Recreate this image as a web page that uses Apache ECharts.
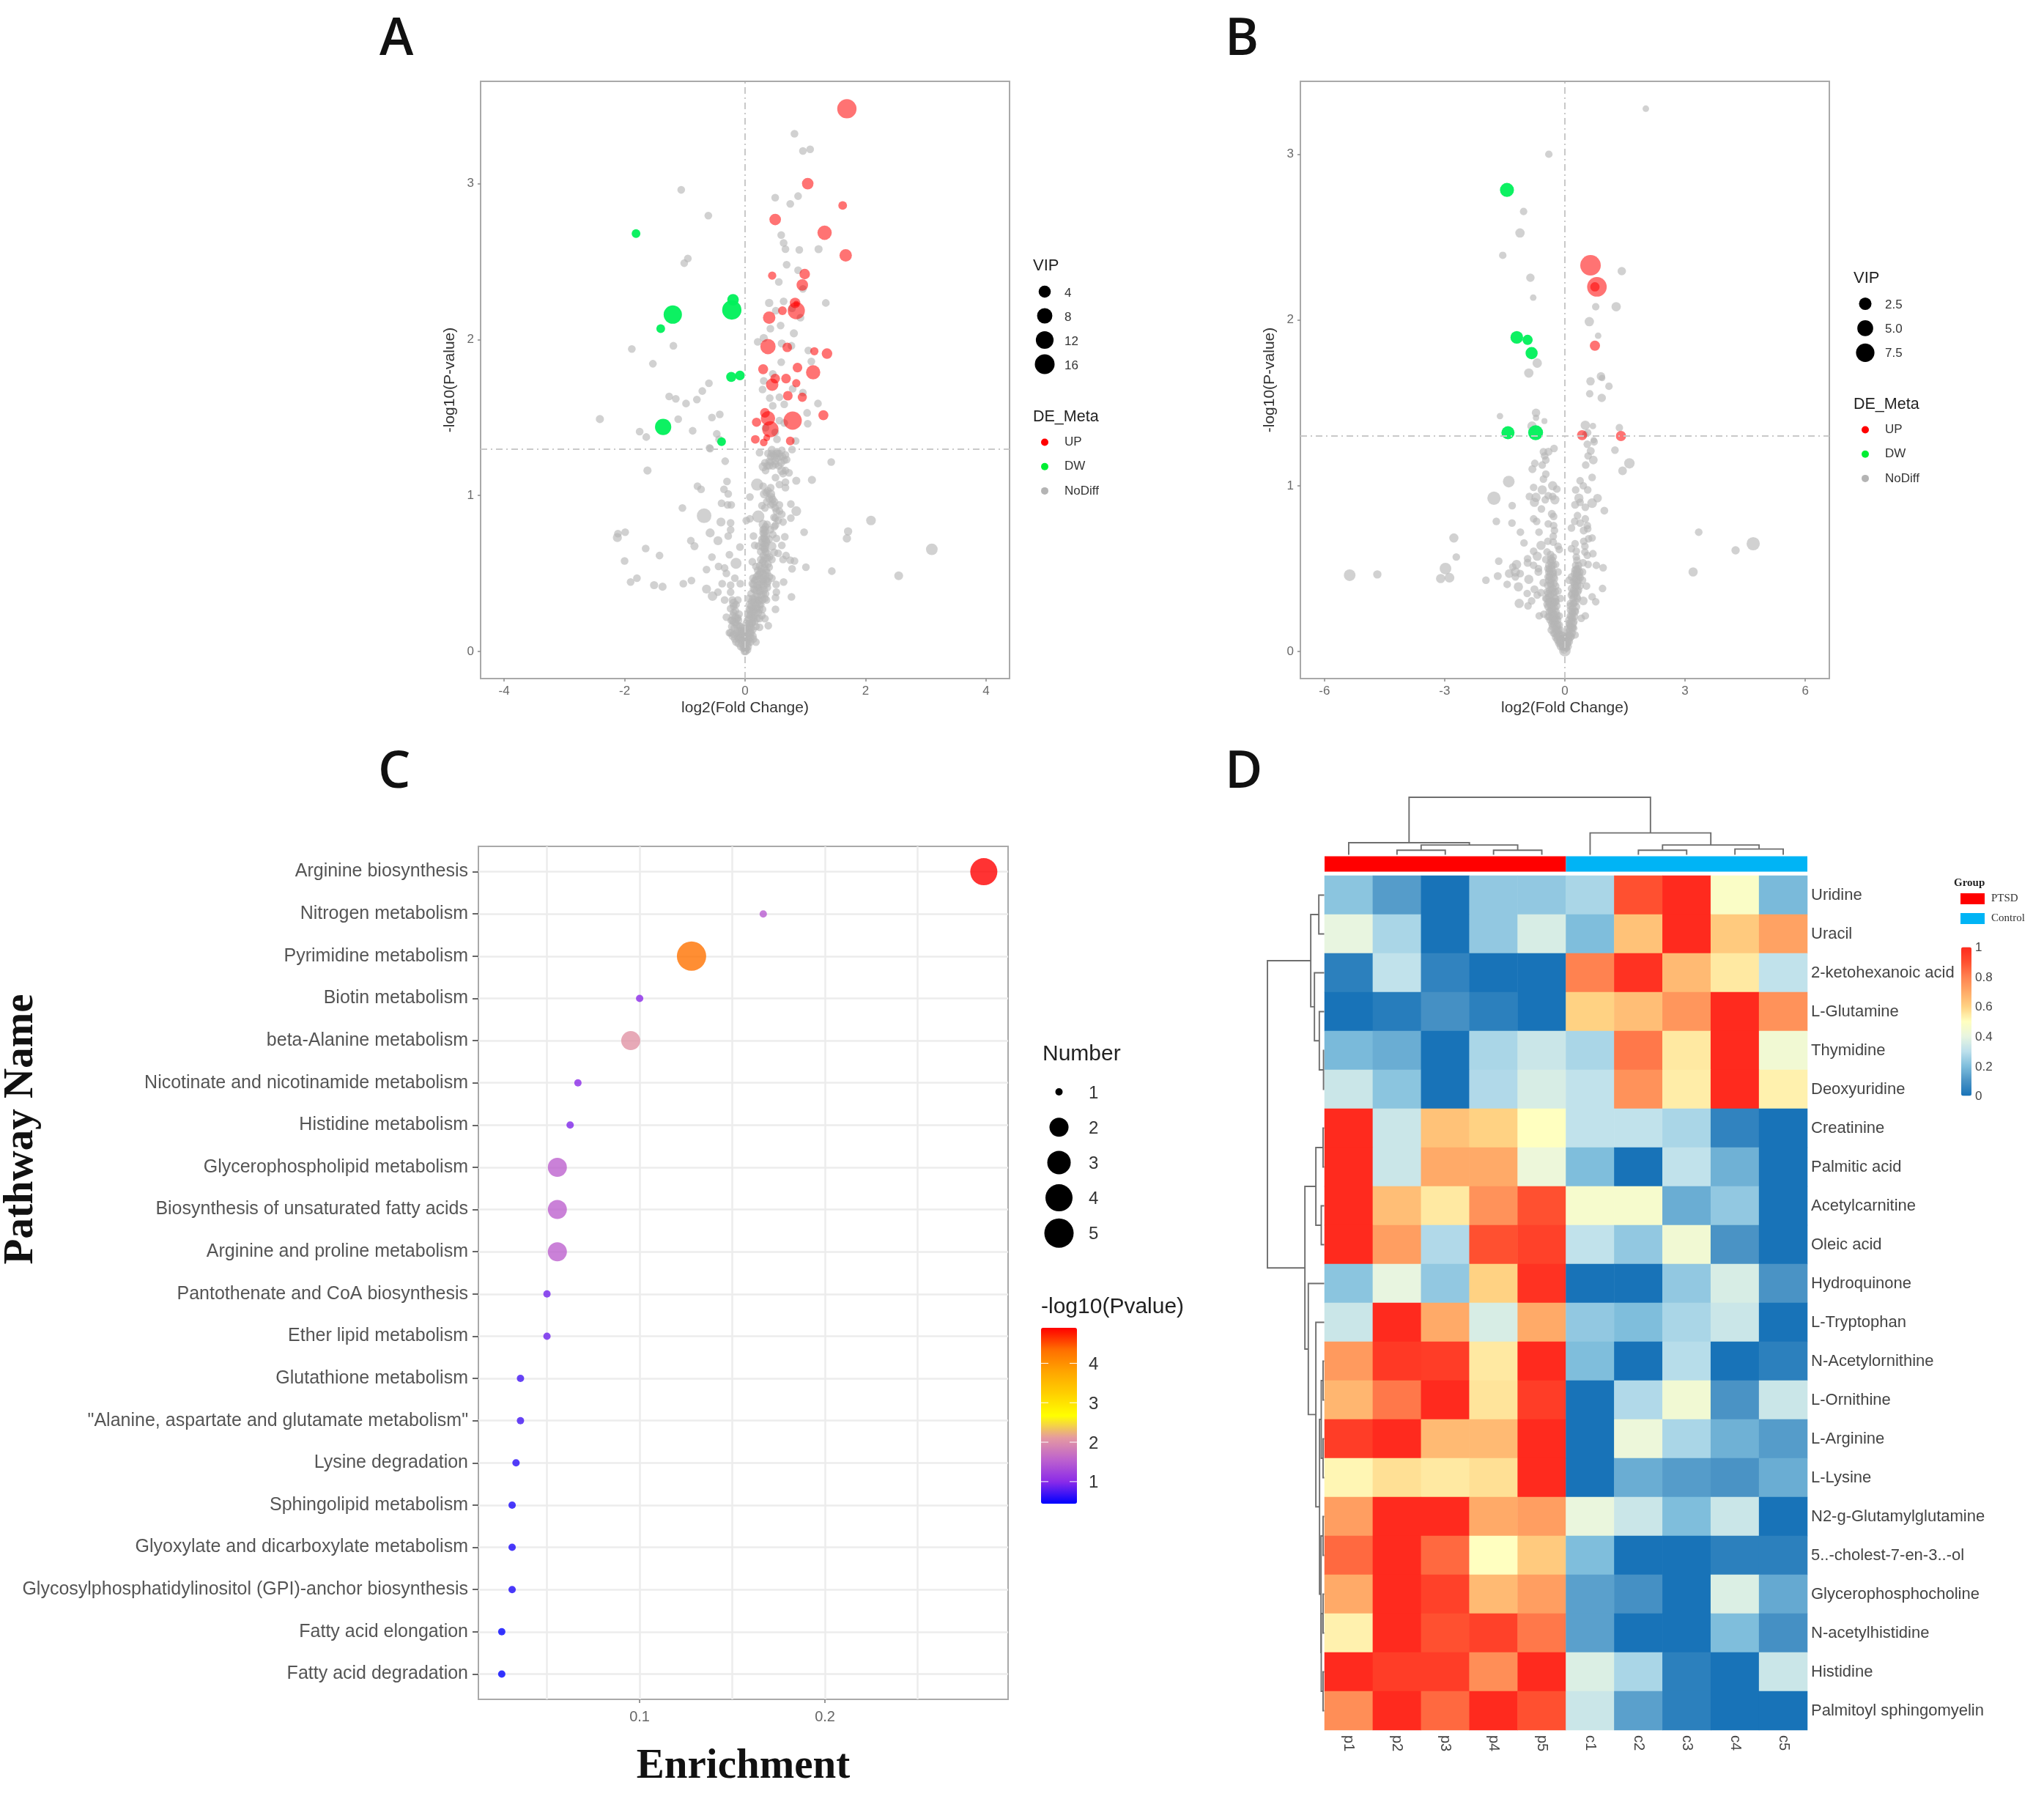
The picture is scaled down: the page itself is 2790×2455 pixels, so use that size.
<!DOCTYPE html>
<html><head><meta charset="utf-8"><title>Metabolomics figure</title>
<style>html,body{margin:0;padding:0;background:#fff}#chart{width:2790px;height:2455px;filter:blur(0.7px)}</style>
<script src="https://cdn.jsdelivr.net/npm/echarts@6/dist/echarts.min.js"></script>
</head><body><div id="chart"></div>
<script>
// Panel A: [log2FC, -log10P, VIP]; VIP omitted = small point
const upA=[[1.69,3.48,15],[1.04,3.0,3.4],[1.62,2.86,1.2],[.50,2.77,3.4],[1.32,2.685,6.6],[1.67,2.54,4.3],[.99,2.42,2.5],[.45,2.41,.95],[.95,2.35,3.4],[.83,2.235,2.5],[.85,2.185,11],[.62,2.185,1.2],[.40,2.14,4.3],[.38,1.955,8],[.70,1.95,1.8],[1.15,1.925,.95],[1.36,1.91,2.5],[.87,1.82,1.8],[.30,1.81,2.1],[1.13,1.79,6.6],[.50,1.75,1.8],[.68,1.75,1.8],[.85,1.72,.95],[.45,1.71,4.3],[.71,1.64,1.8],[.95,1.63,1.5],[.33,1.53,1.8],[1.30,1.515,2.1],[.79,1.48,13],[.38,1.495,6.6],[.19,1.47,1.5],[.42,1.425,9.5],[.36,1.37,.35],[.17,1.36,1.2],[.31,1.34,.7],[.75,1.35,1.2],[.85,2.23,.08]];
const dwA=[[-1.81,2.68,1.2],[-.20,2.255,3.4],[-.22,2.19,15],[-1.20,2.16,13],[-1.40,2.07,1.2],[-.085,1.77,1.8],[-.23,1.76,2.1],[-1.36,1.44,9.5],[-.39,1.345,1.2]];
const noDiffA=[[.82,3.32],[.96,3.21],[1.08,3.22],[-1.06,2.96],[.50,2.91],[.88,2.92],[.75,2.87],[-.61,2.795],[.60,2.67],[.64,2.62],[.67,2.58],[.90,2.575],[1.22,2.58,.9],[-.95,2.52],[-1.01,2.49],[.69,2.48],[.88,2.445],[.56,2.37],[.96,2.325],[1.34,2.235],[.40,2.235,1],[.64,2.245],[.51,2.185],[.78,2.2],[.92,2.14],[.59,2.09],[.42,2.07],[.81,2.04,.9],[.31,2.01,.9],[.21,1.985],[.61,1.975,.9],[.77,1.96],[-1.19,1.96],[-1.88,1.94],[1.05,1.93],[-1.53,1.845],[.60,1.855],[1.10,1.86],[.46,1.78],[.31,1.735],[-.60,1.72],[-.71,1.67],[-1.26,1.635],[-1.15,1.62],[-.80,1.615],[-.98,1.59],[.29,1.68],[.79,1.685],[.96,1.66],[.41,1.625],[.57,1.63],[1.21,1.59],[.65,1.585],[.46,1.575],[1.03,1.53],[-2.41,1.49,.9],[-1.11,1.49],[-.42,1.52],[-.55,1.50],[1.04,1.46],[.57,1.48],[.65,1.465],[-1.75,1.41],[-1.64,1.375],[-.87,1.415],[-.47,1.395],[.34,1.435],[.50,1.405],[.53,1.36],[.84,1.35],[-.59,1.305],[-.43,1.36],
[-.58,1.30],[-.33,1.22],[-1.62,1.16,.9],[-.30,1.09],[-.79,1.06],[-.73,1.04],[-.35,1.04],[-.28,1.01],[.08,.99],[-1.04,.92],[-.39,.95],[-.29,.94],[-.23,.94],[-.68,.87,7],[-.40,.83,1.4],[-.24,.825],[-.24,.78],[-.58,.76,1.4],[-.28,.74],[-.45,.71,1.4],[-.90,.71],[-.84,.675,.9],[-1.99,.765],[-2.11,.755],[-2.12,.73,1.4],[-1.65,.66],[-1.42,.615],[-.55,.605],[-.26,.62],[-.085,.67],[-.15,.565,2.9],[-2.0,.58],[-.44,.545],[-.34,.535],[-.64,.525],[-.31,.50],[-.17,.47],[-.89,.455],[-1.795,.47],[-1.90,.445],[-1.51,.425,.9],[-1.37,.415,.9],[-1.025,.435],[-.38,.435],[-.24,.425],[-.08,.435],[-.64,.40,1.4],[-.54,.355,1.7],[-.45,.38],[-.24,.38],[-.34,.33],[-.19,.31,1.4],[-.12,.33],[-.31,.22],[-.26,.12],[-.20,.10,1.4],
[.24,1.275],[1.43,1.215],[.78,1.295],[.445,1.295],[.53,1.28],[.61,1.29],[.67,1.26],[.425,1.25],[.53,1.24],[.65,1.225],[.69,1.23],[.365,1.19],[.30,1.185,1.4],[.425,1.215],[.505,1.20],[.61,1.16,1.4],[.73,1.145],[.67,1.16],[.63,1.14],[.505,1.115],[.67,1.085],[.57,1.07],[.85,1.095,.9],[1.11,1.10,.9],[.20,1.07,4],[.30,1.06],[.425,1.05],[.67,1.05],[.32,1.01,1.4],[.425,1.01,1.4],[.46,.975],[.465,.945],[.57,.94],[.76,.945],[.28,.935],[.33,.92],[.57,.90],[.61,.88],[.85,.90,1.9],[.22,.865,4],[.08,.85],[.02,.84],[.505,.855],[.76,.855],[.63,.83],[.30,.815,1.4],[.365,.815],[.505,.81],[.32,.785],[.32,.755],[.32,.725],[.32,.69],[.485,.80],[.14,.74],[.98,.765],[1.71,.77,1],[1.69,.725,1],[.52,.725],[.66,.735],[.61,.68],[.16,.68],[.22,.675],[.445,.675,1.4],[.32,.655],[.485,.635],[.30,.615],[.405,.605],[.55,.63],[.68,.615],[.63,.59],[.75,.585],[.82,.58],[.12,.575],[.445,.59],[1.01,.54],[1.44,.515],[.78,.53],[.24,.55],[.32,.535],[.18,.545],[.26,.51],[.365,.505],[.445,.47],[.405,.48],[.16,.455],[.24,.465],[.30,.45],[.12,.435],[.20,.425],[.365,.435],[.515,.43],[.64,.445],[.16,.395],[.24,.385],[.10,.37],[.18,.355],[.32,.395],[.52,.38],[.505,.345],[.77,.35],[.06,.34],[.14,.315],[.24,.325],[.355,.33],[.505,.27],[.12,.275],[.20,.275],[.28,.23],[.33,.21],[.16,.23],[.08,.23],[.385,.165],[.24,.155],[.18,.06],
[-.24,.275],[-.16,.26],[-.20,.23],[-.12,.215],[-.16,.185],[-.10,.165],[-.18,.15],[-.06,.135],[-.14,.12],[-.08,.09],[-.04,.075],[0,.04],[0,.02],[.01,0],[.08,.165],[.12,.185],[.04,.12],[.10,.12],[.06,.075],[0,.105],[-.04,.15],[.02,.135],
[2.09,.84,1.8],[3.1,.655,3.5],[2.55,.485,1.3],[.28,.72],[.34,.64],[.29,.57],[.21,.52],[.30,.50],[.35,.46],[.27,.43],[.22,.41],[.14,.40],[.30,.37],[.21,.35],[.26,.30],[.17,.30],[.10,.29],[.08,.26],[.22,.25],[.12,.22],[.04,.20],[.10,.15],[.16,.19],[.06,.10],[.03,.06],[-.03,.10],[-.08,.13],[-.11,.20],[-.19,.29],[-.02,.03],[.02,.02],[-.05,.05],[.05,.05],
[.34,.80],[.30,.76],[.35,.74],[.28,.70],[.36,.70],[.33,.66],[.26,.64],[.37,.63],[.33,.60],[.26,.59],[.38,.56],[.33,.56],[.24,.50],[.31,.47],[.38,.45],[.19,.48],[.13,.47],[.26,.39],[.34,.37],[.13,.34],[.29,.33],[.20,.31],[.07,.30],[.15,.26],[.24,.27],[.05,.24],[.20,.21],[.11,.18],[.07,.15],[.13,.10],[.09,.06],[.05,.03],[.47,1.26],[.50,1.22],[.58,1.25],[.60,1.21],[.40,1.22],[.46,1.19],[.56,1.19],[.33,1.21],[.38,1.27],[.35,1.02],[.40,.98],[.50,.92],[.43,.94],[.36,.96],[-.21,.20],[-.14,.17],[-.22,.16],[-.09,.11],[-.17,.08],[-.11,.05],[-.07,.03],[-.03,.02],[-.12,.09],[-.19,.19],[-.15,.30],[-.21,.33]];
const noDiffCoreA=[[.30,.78],[.34,.77],[.31,.73],[.35,.71],[.29,.67],[.34,.68],[.37,.60],[.30,.58],[.40,.54],[.27,.53],[.35,.52],[.22,.49],[.29,.46],[.34,.49],[.18,.46],[.24,.43],[.31,.42],[.37,.41],[.14,.43],[.19,.39],[.27,.36],[.33,.34],[.22,.33],[.16,.33],[.11,.32],[.19,.28],[.24,.30],[.29,.27],[.13,.27],[.07,.27],[.18,.25],[.10,.24],[.14,.21],[.24,.21],[.06,.21],[.02,.18],[.18,.16],[.07,.18],[.13,.14],[.03,.15],[.08,.12],[.14,.08],[.02,.08],[.09,.09],[-.02,.07],[.04,.01],[-.01,.0],[.0,.06],[-.07,.07],[-.05,.11],[-.10,.08],[-.13,.13],[-.08,.16],[-.02,.13],[-.14,.21],[-.10,.24],[-.19,.25],[-.23,.20],[-.16,.22],[-.24,.12],[-.19,.11],[-.15,.06],[.52,1.27],[.44,1.27],[.56,1.27],[.62,1.25],[.49,1.25],[.40,1.19],[.34,1.16],[.38,1.03],[.44,.99],[.49,.96],[.52,.90],[.48,.86],[.55,.84],[.42,.78],[.46,.75],[.40,.72]];

// Panel B: [log2FC, -log10P, VIP]
const upB=[[.64,2.33,9.9],[.80,2.20,8.8],[.75,2.20,.94],[.75,1.845,1.3],[.43,1.305,1.3],[1.40,1.30,1.3]];
const dwB=[[-1.445,2.785,3.5],[-1.20,1.895,2.6],[-.93,1.88,1.3],[-.83,1.80,2.3],[-1.42,1.32,2.9],[-.73,1.32,4.2]];
const noDiffB=[[2.02,3.275,.17],[-.40,3.0,.36],[-1.03,2.655,.36],[-1.12,2.525,.94],[-1.55,2.39,.36],[1.42,2.295,.62],[-.86,2.255,.62],[-.79,2.135,.17],[.77,2.08,.36],[1.28,2.08,.94],[.61,1.99,.94],[.83,1.905,.17],[-.69,1.74,.94],[-.90,1.68,.94],[.90,1.66,.62],[.93,1.65,.17],[.64,1.63,.62],[1.10,1.60,.36],[.62,1.555,.36],[.92,1.53,.62],[-1.62,1.42,.17],[-.72,1.44,.62],[-.72,1.41,.17],[-.51,1.39,.1],[-.82,1.36,.94],[.51,1.365,.94],[.70,1.36,.17],[1.36,1.35,.36],[.57,1.32,.36],[.72,1.275,.17],[.51,1.31,.17],
[-.27,1.225],[-.535,1.205],[-.41,1.205,.5],[-.505,1.18],[-.475,1.155],[-.75,1.135],[-.565,1.125],[-.81,1.10,.5],[-.475,1.07],[-.535,1.04],[-1.40,1.025,2],[-.78,.99],[-.305,1.0,.9],[-.565,.975,.9],[-.20,.98],[-1.77,.925,3],[-1.315,.88],[-.885,.935],[-.72,.93,.9],[-.76,.90,.9],[-.49,.915],[-.415,.94],[-.305,.935],[-.25,.915,.9],[-.585,.86],[-.325,.83,.5],[-.28,.815],[-.78,.80],[-.705,.785],[-1.71,.785],[-1.32,.775],[-.415,.77],[-.28,.76],[-.26,.73],[-1.11,.72],[-.645,.72],[-2.77,.685,.9],[-1.02,.655],[-.29,.695],[-.595,.64,.9],[-.425,.665],[-.29,.66],[-.17,.635],[-.14,.615],[-.78,.605],[-.69,.575,.9],[-2.71,.57],[-.93,.56],[-1.65,.545],[-.445,.60],[-.355,.585],[-.29,.57],[-.475,.555],[-.355,.54],[-.23,.525],[-.93,.535,.5],[-1.205,.525,.9],[-1.30,.51],[-.78,.52],[-2.98,.50,2],[-3.1,.44,.9],[-2.88,.445,1.1],[-1.97,.43],[-1.675,.455,.5],[-1.39,.47,.7],[-1.235,.48,.9],[-1.115,.47],[-1.235,.45],[-.66,.48,.5],[-.66,.50],[-.385,.495],[-.29,.48],[-.17,.48],[-.385,.45],[-.26,.44],[-.90,.435,.9],[-1.44,.405],[-1.16,.39,.9],[-.535,.415,.5],[-.355,.41],[-.23,.395],[-.76,.375,.5],[-.94,.35],[-.595,.355],[-.69,.34],[-.415,.35],[-.29,.355],[-.17,.365],[-1.14,.29,.9],[-.83,.305],[-.92,.275],[-.475,.32],[-.355,.305],[-.23,.32],[-.11,.32],[-.445,.285],[-.325,.26],[-.20,.275],[-.64,.215],[-.525,.225],[-.385,.21],[-.26,.195],[-.14,.215],[-.325,.17],[-.20,.15],[-.11,.13],[-.23,.085],[-.08,.10],[.01,.07],[-.11,.055],[.01,.03],[0,.005,2],
[.56,1.25],[.73,1.265],[1.25,1.215],[.645,1.21,.5],[.58,1.18],[.71,1.155,.7],[1.61,1.135,1.4],[1.44,1.09,.7],[.52,1.125],[.68,1.05],[.38,1.03],[.46,1.0],[.57,.975],[.27,.975],[.35,.925,.9],[.815,.925,.7],[.68,.895,1.1],[.255,.885,.5],[.38,.90],[.51,.87],[.985,.85,.45],[.315,.82],[.51,.80],[.245,.785],[.38,.775],[.165,.745],[.56,.76],[.47,.73,.5],[.57,.74],[.68,.685],[.59,.68],[.47,.665],[.255,.65],[.165,.62],[.50,.635],[.285,.605],[.50,.60],[.70,.59],[.56,.58],[.285,.57],[.455,.535],[.58,.525],[.785,.52],[.955,.505],[.285,.495,.5],[.44,.48],[.285,.465],[.165,.45],[.38,.445],[.105,.43],[.44,.43],[.255,.41],[.38,.395],[.54,.395],[.94,.38],[.165,.38],[.255,.35],[.68,.33],[.77,.30],[.46,.305,.7],[.315,.32],[.225,.29],[.135,.275],[.255,.245],[.41,.20],[.51,.215],[.135,.215],[.225,.18],[.105,.17],[.195,.145],[.07,.115],[.255,.10],[.135,.085],[3.34,.72],[3.2,.48,.9],
[-5.37,.46,2],[-4.68,.465,.6],[4.70,.65,3],[4.26,.61,.6],[-.33,.52],[-.40,.52],[-.30,.47],[-.36,.47],[-.43,.40],[-.33,.37],[-.27,.33],[-.40,.33],[-.36,.25],[-.29,.23],[-.22,.24],[-.42,.27],[-.30,.18],[-.18,.19],[-.24,.14],[-.14,.16],[-.16,.10],[-.19,.07],[.30,.46],[.25,.44],[.34,.43],[.22,.37],[.30,.33],[.20,.32],[.18,.24],[.16,.18],[.22,.14],[.12,.13],[.16,.09],[.09,.07],[.05,.04],[-.05,.03],[-.04,.08],[.04,.09],
[-.31,.55],[-.42,.50],[-.34,.43],[-.27,.41],[-.40,.43],[-.44,.36],[-.36,.34],[-.30,.30],[-.22,.30],[-.38,.29],[-.32,.22],[-.42,.21],[-.25,.26],[-.21,.20],[-.27,.16],[-.34,.13],[-.28,.11],[-.18,.12],[-.13,.08],[-.06,.06],[-.15,.05],[-.02,.01],[.03,.06],[.08,.03],[.11,.10],[.18,.11],[.14,.15],[.09,.14],[.19,.20],[.24,.21],[.14,.25],[.20,.26],[.29,.27],[.23,.33],[.16,.34],[.27,.39],[.34,.37],[.21,.42],[.30,.42],[.25,.49],[.33,.50],[.37,.48]];
const noDiffCoreB=[[-.35,.56],[-.29,.52],[-.40,.48],[-.33,.50],[-.28,.45],[-.42,.45],[-.35,.40],[-.30,.38],[-.38,.37],[-.24,.36],[-.45,.32],[-.33,.31],[-.27,.29],[-.41,.30],[-.35,.28],[-.30,.26],[-.24,.30],[-.39,.24],[-.33,.24],[-.27,.22],[-.20,.22],[-.37,.19],[-.31,.20],[-.25,.18],[-.18,.16],[-.31,.15],[-.25,.11],[-.21,.12],[-.16,.13],[-.12,.10],[-.19,.09],[-.14,.06],[-.09,.07],[-.06,.03],[-.11,.03],[-.03,.05],[.01,.10],[.03,.02],[.07,.05],[.11,.06],[.07,.09],[.13,.10],[.18,.14],[.12,.16],[.21,.17],[.16,.21],[.10,.19],[.20,.23],[.26,.24],[.14,.29],[.21,.29],[.27,.30],[.18,.35],[.25,.36],[.32,.36],[.24,.40],[.31,.40],[.28,.44],[.35,.46],[.24,.47],[.31,.48],[.27,.52],[.34,.52],[.30,.55]];

const volcanoTicksA={x:[-4,-2,0,2,4],y:[0,1,2,3]};
const volcanoTicksB={x:[-6,-3,0,3,6],y:[0,1,2,3]};
const vipLegendA=[4,8,12,16];
const vipLegendB=[2.5,5,7.5];
const deLevels=['UP','DW','NoDiff'];

// Panel C
const pathwayNames=['Arginine biosynthesis','Nitrogen metabolism','Pyrimidine metabolism','Biotin metabolism','beta-Alanine metabolism','Nicotinate and nicotinamide metabolism','Histidine metabolism','Glycerophospholipid metabolism','Biosynthesis of unsaturated fatty acids','Arginine and proline metabolism','Pantothenate and CoA biosynthesis','Ether lipid metabolism','Glutathione metabolism','"Alanine, aspartate and glutamate metabolism"','Lysine degradation','Sphingolipid metabolism','Glyoxylate and dicarboxylate metabolism','Glycosylphosphatidylinositol (GPI)-anchor biosynthesis','Fatty acid elongation','Fatty acid degradation'];
const enrichment=[.2857,.1667,.128,.1,.0952,.0667,.0625,.0556,.0556,.0556,.05,.05,.0357,.0357,.0333,.0312,.0312,.0312,.0256,.0256];
const pathwayLogP=[4.9,1.5,4.3,1.0,2.05,1.0,.95,1.55,1.55,1.55,.9,.88,.7,.7,.6,.55,.55,.55,.45,.44];
const pathwayNumber=[4,1,5,1,2,1,1,2,2,2,1,1,1,1,1,1,1,1,1,1];
const numberLegend=[1,2,3,4,5];
const pvalueTicks=[1,2,3,4];
const enrichTicks=[.1,.2];
const enrichGrid=[.05,.1,.15,.2,.25];

// Panel D
const metabolites=['Uridine','Uracil','2-ketohexanoic acid','L-Glutamine','Thymidine','Deoxyuridine','Creatinine','Palmitic acid','Acetylcarnitine','Oleic acid','Hydroquinone','L-Tryptophan','N-Acetylornithine','L-Ornithine','L-Arginine','L-Lysine','N2-g-Glutamylglutamine','5..-cholest-7-en-3..-ol','Glycerophosphocholine','N-acetylhistidine','Histidine','Palmitoyl sphingomyelin'];
const samples=['p1','p2','p3','p4','p5','c1','c2','c3','c4','c5'];
const heatValues=[
[.22,.12,0,.23,.23,.27,.9,1,.48,.19],
[.40,.27,0,.23,.36,.20,.64,1,.62,.72],
[.04,.31,.05,0,0,.8,.98,.66,.55,.31],
[0,.03,.09,.04,0,.6,.65,.75,1,.76],
[.19,.16,0,.27,.33,.27,.82,.55,1,.44],
[.33,.22,0,.28,.36,.31,.76,.54,1,.53],
[1,.33,.64,.60,.5,.31,.31,.27,.05,0],
[1,.33,.7,.7,.42,.2,0,.31,.17,0],
[1,.65,.55,.76,.9,.46,.46,.16,.23,0],
[1,.73,.28,.9,.94,.31,.23,.44,.1,0],
[.22,.4,.23,.6,.98,0,0,.23,.36,.1],
[.33,1,.7,.36,.7,.23,.2,.27,.33,0],
[.74,.96,.95,.55,1,.2,0,.29,0,.04],
[.67,.82,1,.56,.95,0,.28,.44,.1,.33],
[.95,1,.66,.66,1,0,.42,.27,.17,.12],
[.52,.57,.55,.57,1,0,.16,.12,.1,.16],
[.73,1,1,.7,.73,.41,.33,.2,.33,0],
[.85,1,.85,.5,.62,.2,0,0,.04,.04],
[.7,1,.94,.66,.73,.13,.09,0,.37,.15],
[.53,1,.9,.94,.82,.13,0,0,.2,.09],
[1,.95,.95,.77,1,.37,.27,.04,0,.33],
[.77,1,.85,1,.9,.33,.13,.04,0,0]];
const groupNames=['PTSD','Control'];
const groupSizes=[5,5];
const heatLegendTicks=[0,.2,.4,.6,.8,1];
// dendrogram merges: [positionA, heightA, positionB, heightB, mergeHeight]
const colTree=[[1,0,2,0,.08],[3,0,4,0,.08],[1.5,.08,3.5,.08,.17],[0,0,2.5,.17,.21],[6,0,7,0,.08],[8,0,9,0,.1],[6.5,.08,8.5,.1,.17],[5,0,7.5,.17,.38],[1.25,.21,6.25,.38,1]];
const rowTree=[[0,0,1,0,.095],[4,0,5,0,.012],[3,0,4.5,.012,.086],[2,0,3.75,.086,.172],[.5,.095,2.875,.172,.237],[6,0,7,0,.02],[8,0,9,0,.052],[6.5,.02,8.5,.052,.147],[12,0,13,0,.02],[14,0,15,0,.02],[12.5,.02,14.5,.02,.052],[16,0,17,0,.02],[18,0,19,0,.02],[20,0,21,0,.02],[18.5,.02,20.5,.02,.052],[16.5,.02,19.5,.052,.056],[13.5,.052,18,.056,.082],[11,0,15.75,.082,.147],[10,0,13.375,.147,.28],[7.5,.147,11.69,.28,.34],[1.6875,.237,9.6,.34,1]];

// ---- styles and layout ----
const SANS='"Liberation Sans", Arial, sans-serif', SERIF='"Liberation Serif", serif';
const RED='#ff0000', GREEN='#00f05a', GREY='#b4b4b4';
const sizeA=v=>6.2+5.2*Math.sqrt(v), sizeB=v=>6+7*Math.sqrt(v);
const numberSize=[10,26,32,37,40];
const rectA={left:656,top:111,width:722,height:815}, rectB={left:1775,top:111,width:722,height:815};
const rectC={left:653,top:1155,width:723,height:1164}, rectH={left:1808,top:1195,width:659,height:1166};
const frame={show:true,borderColor:'#a9a9a9',borderWidth:2,backgroundColor:'#fff'};

function volcanoAxes(gi,xr,yr,ticks,yNameGap){
  const lab={color:'#6a6a6a',fontFamily:SANS,fontSize:17,margin:9};
  const tick=vals=>({show:true,length:4,lineStyle:{color:'#8a8a8a',width:1.5},customValues:vals});
  return {
    x:{type:'value',gridIndex:gi,min:-xr,max:xr,position:'bottom',axisLine:{show:false,onZero:false},splitLine:{show:false},axisTick:tick(ticks.x),axisLabel:{...lab,customValues:ticks.x},
       name:'log2(Fold Change)',nameLocation:'center',nameGap:30,nameTextStyle:{color:'#333',fontFamily:SANS,fontSize:21}},
    y:{type:'value',gridIndex:gi,min:yr[0],max:yr[1],position:'left',axisLine:{show:false,onZero:false},splitLine:{show:false},axisTick:tick(ticks.y),axisLabel:{...lab,customValues:ticks.y,padding:[3,0,0,0]},
       name:'-log10(P-value)',nameLocation:'center',nameGap:yNameGap,nameRotate:90,nameTextStyle:{color:'#333',fontFamily:SANS,fontSize:21}}
  };
}
function volcanoSeries(gi,up,dw,nd,size,defVip){
  const sz=v=>size(v[2]===undefined?defVip:v[2]);
  const base={type:'scatter',xAxisIndex:gi,yAxisIndex:gi,symbol:'circle',symbolSize:sz,silent:true};
  return [
   {...base,name:'NoDiff',data:nd,itemStyle:{color:GREY,opacity:.62},
    markLine:{silent:true,symbol:'none',label:{show:false},animation:false,lineStyle:{color:'#c9c9c9',width:2,type:[9,5,2,5]},data:[{xAxis:0},{yAxis:1.3}]}},
   {...base,name:'UP',data:up,itemStyle:{color:RED,opacity:.55}},
   {...base,name:'DW',data:dw,itemStyle:{color:GREEN,opacity:.95}}
  ];
}
const axA=volcanoAxes(0,4.39,[-.174,3.656],volcanoTicksA,31);
const axB=volcanoAxes(1,6.6,[-.1635,3.44],volcanoTicksB,31);

function treeRender(vertical){
  return (params,api)=>{
    const a=api.value(0),ha=api.value(1),b=api.value(2),hb=api.value(3),t=api.value(4);
    const raw=[[a,ha],[a,t],[b,t],[b,hb]];
    const points=raw.map(p=>api.coord(vertical?p:[p[1],p[0]]));
    return {type:'polyline',shape:{points},style:{fill:'none',stroke:'#6e6e6e',lineWidth:1.9}};
  };
}

const heatData=[];
heatValues.forEach((row,r)=>row.forEach((v,c)=>heatData.push([c,r,v])));
const bubbleData=pathwayNames.map((n,i)=>[enrichment[i],i,pathwayLogP[i],pathwayNumber[i]]);

const series=[
  ...volcanoSeries(0,upA,dwA,noDiffA.concat(noDiffCoreA),sizeA,.7),
  ...volcanoSeries(1,upB,dwB,noDiffB.concat(noDiffCoreB),sizeB,.4),
  {type:'scatter',name:'Pathway',xAxisIndex:2,yAxisIndex:2,data:bubbleData,symbol:'circle',symbolSize:v=>numberSize[v[3]-1],silent:true},
  {type:'heatmap',name:'Heat',xAxisIndex:4,yAxisIndex:3,data:heatData,silent:true,progressive:0},
  {type:'custom',name:'colTree',xAxisIndex:5,yAxisIndex:4,data:colTree,renderItem:treeRender(true),silent:true,clip:false},
  {type:'custom',name:'rowTree',xAxisIndex:6,yAxisIndex:5,data:rowTree,renderItem:treeRender(false),silent:true,clip:false},
  {type:'bar',name:groupNames[0],stack:'g',xAxisIndex:7,yAxisIndex:6,data:[groupSizes[0]],barWidth:'100%',itemStyle:{color:'#ff0000'},silent:true},
  {type:'bar',name:groupNames[1],stack:'g',xAxisIndex:7,yAxisIndex:6,data:[groupSizes[1]],barWidth:'100%',itemStyle:{color:'#00b4f5'},silent:true}
];
const BUBBLE=6, HEAT=7;

// free text and legend marks
const gfx=[];
const text=(x,y,t,font,fill,align,rotation)=>gfx.push({type:'text',x,y,rotation:rotation||0,z:100,silent:true,
  style:{text:t,font,fill:fill||'#222',align:align||'left',verticalAlign:'middle'}});
const dot=(cx,cy,d)=>gfx.push({type:'circle',z:100,silent:true,shape:{cx,cy,r:d/2},style:{fill:'#000'}});

const LETTER='600 70px "Open Sans", "Noto Sans", sans-serif';
text(518,55,'A',LETTER,'#111');text(1672,55,'B',LETTER,'#111');text(516,1055,'C',LETTER,'#111');text(1672,1055,'D',LETTER,'#111');

text(1410,363,'VIP','22px '+SANS);
vipLegendA.forEach((v,i)=>{dot(1426,398+33*i,sizeA(v));text(1453,400+33*i,String(v),'17px '+SANS,'#333');});
text(1410,569,'DE_Meta','21.5px '+SANS);
text(2530,380,'VIP','22px '+SANS);
vipLegendB.forEach((v,i)=>{dot(2546,414.5+33.4*i,sizeB(v));text(2573,416+33.4*i,v.toFixed(1),'17px '+SANS,'#333');});
text(2530,552,'DE_Meta','21.5px '+SANS);

text(1423,1439,'Number','30px '+SANS);
numberLegend.forEach((n,i)=>{const y=1490+48.2*i;dot(1445.5,y,numberSize[i]);text(1486,y+2,String(n),'24px '+SANS,'#333');});
text(1421,1784,'-log10(Pvalue)','30px '+SANS);
const pBar={left:1421,top:1812,w:49,h:240,min:.44,max:4.9};
pvalueTicks.forEach(v=>{const y=pBar.top+(pBar.max-v)/(pBar.max-pBar.min)*pBar.h;
  text(1486,y+2,String(v),'24px '+SANS,'#333');
  [[pBar.left,pBar.left+10],[pBar.left+pBar.w-10,pBar.left+pBar.w]].forEach(s=>gfx.push({type:'line',z:100,silent:true,shape:{x1:s[0],y1:y,x2:s[1],y2:y},style:{stroke:'#fff',lineWidth:1}}));
});
text(29,1541,'Pathway Name','700 57px '+SERIF,'#111','center',Math.PI/2);

text(2667,1205,'Group','700 15px '+SERIF,'#222');
const hBar={left:2677,top:1292.5,w:14,h:203};
heatLegendTicks.forEach(v=>text(2696,hBar.top+(1-v)*hBar.h+1,String(v),'17px '+SANS,'#444'));

const deLegend=(left,top)=>({orient:'vertical',left,top,padding:0,itemWidth:10,itemHeight:10,itemGap:16.2,selectedMode:false,
  textStyle:{fontFamily:SANS,fontSize:17,color:'#333',padding:[2,0,0,17]},
  data:[{name:'UP',icon:'circle',itemStyle:{color:RED,opacity:1}},{name:'DW',icon:'circle',itemStyle:{color:'#00ee33',opacity:1}},{name:'NoDiff',icon:'circle',itemStyle:{color:GREY,opacity:1}}]});

const option={
  backgroundColor:'#fff',animation:false,
  grid:[{...rectA,...frame},{...rectB,...frame},{...rectC,...frame},{...rectH},
        {left:rectH.left,width:rectH.width,top:1088,height:78.5},
        {left:1730,width:77.5,top:rectH.top,height:rectH.height},
        {left:rectH.left,width:rectH.width,top:1168.5,height:21}],
  xAxis:[axA.x,axB.x,
    {type:'value',gridIndex:2,min:.013,max:.2988,position:'bottom',splitLine:{show:false},axisLine:{show:false,onZero:false},
     axisTick:{show:true,length:5,lineStyle:{color:'#777',width:1.5},customValues:enrichTicks},
     axisLabel:{color:'#666',fontFamily:SANS,fontSize:20,margin:14,customValues:enrichTicks},
     name:'Enrichment',nameLocation:'center',nameGap:64,nameTextStyle:{color:'#111',fontFamily:SERIF,fontWeight:700,fontSize:57}},
    {type:'value',gridIndex:2,min:.013,max:.2988,position:'top',axisLine:{show:false,onZero:false},axisLabel:{show:false},
     axisTick:{show:false,customValues:enrichGrid},splitLine:{show:true,lineStyle:{color:'#ececec',width:2.5}}},
    {type:'category',gridIndex:3,data:samples,position:'bottom',axisLine:{show:false},axisTick:{show:false},splitLine:{show:false},
     axisLabel:{rotate:-90,color:'#444',fontFamily:SANS,fontSize:20,margin:7}},
    {type:'value',gridIndex:4,min:-.5,max:9.5,show:false},
    {type:'value',gridIndex:5,min:0,max:1,inverse:true,show:false},
    {type:'value',gridIndex:6,min:0,max:10,show:false}
  ],
  yAxis:[axA.y,axB.y,
    {type:'value',gridIndex:2,min:-.6,max:19.6,inverse:true,position:'left',axisLine:{show:false,onZero:false},
     axisTick:{show:true,length:8,lineStyle:{color:'#666',width:2},customValues:pathwayNames.map((n,i)=>i)},
     splitLine:{show:true,lineStyle:{color:'#ececec',width:2.5}},
     axisLabel:{color:'#555',fontFamily:SANS,fontSize:25,margin:14,padding:[7,0,0,0],customValues:pathwayNames.map((n,i)=>i),formatter:v=>pathwayNames[v]}},
    {type:'category',gridIndex:3,data:metabolites,inverse:true,position:'right',axisLine:{show:false},axisTick:{show:false},splitLine:{show:false},
     axisLabel:{color:'#444',fontFamily:SANS,fontSize:22,margin:5,padding:[5,0,0,0]}},
    {type:'value',gridIndex:4,min:0,max:1,show:false},
    {type:'value',gridIndex:5,min:-.5,max:21.5,inverse:true,show:false},
    {type:'category',gridIndex:6,data:['Group'],show:false}
  ],
  legend:[deLegend(1421,595),deLegend(2541,578),
    {orient:'vertical',left:2676,top:1219,padding:0,itemWidth:33,itemHeight:15,itemGap:12,selectedMode:false,icon:'rect',
     textStyle:{fontFamily:SERIF,fontSize:15,color:'#333',padding:[0,0,0,4]},data:groupNames}],
  visualMap:[
    {type:'continuous',seriesIndex:BUBBLE,dimension:2,min:pBar.min,max:pBar.max,left:pBar.left,top:pBar.top,itemWidth:pBar.w,itemHeight:pBar.h,padding:0,calculable:false,realtime:false,hoverLink:false,
     inRange:{color:['#0000ff','#8b2be8','#bd62ce','#e59aa0','#ffff00','#ffd000','#ffa500','#ff6e00','#ff0000']}},
    {type:'continuous',seriesIndex:HEAT,dimension:2,min:0,max:1,left:hBar.left,top:hBar.top,itemWidth:hBar.w,itemHeight:hBar.h,padding:0,calculable:false,realtime:false,hoverLink:false,
     inRange:{color:['#1873b8','#4a93c5','#7fbedc','#bde0ec','#e8f5e0','#ffffc0','#ffd283','#ffaa68','#ff8250','#ff5030','#ff2a1e']}}
  ],
  series,
  graphic:{elements:gfx}
};
const chart=echarts.init(document.getElementById('chart'),null,{renderer:'canvas',width:2790,height:2455});
chart.setOption(option);
</script></body></html>
